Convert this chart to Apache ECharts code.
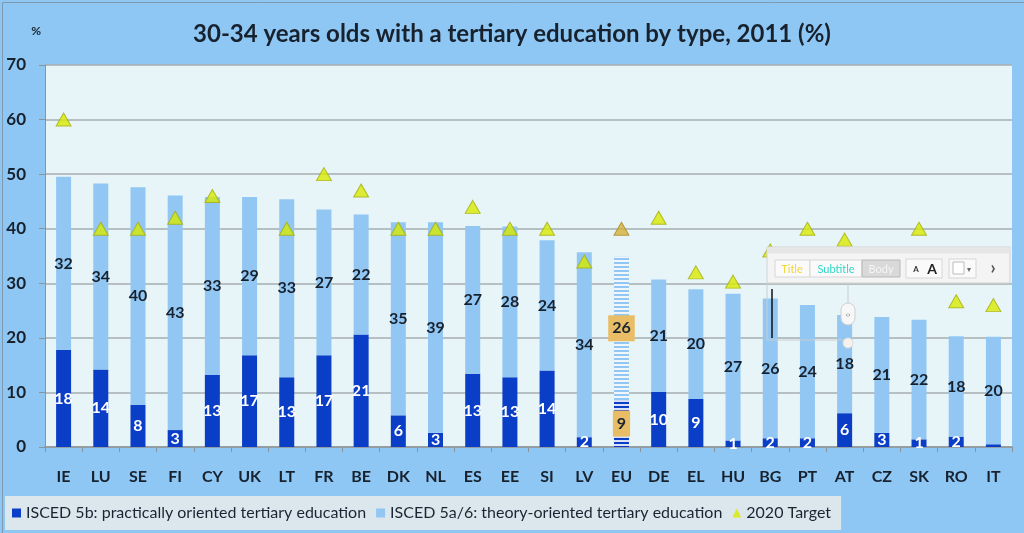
<!DOCTYPE html>
<html>
<head>
<meta charset="utf-8">
<script src="https://cdn.jsdelivr.net/npm/echarts@6/dist/echarts.min.js"></script>
<style>
html,body{margin:0;padding:0;background:#8FC7F4;}
#c{width:1024px;height:533px;}
</style>
</head>
<body>
<div id="c"></div>
<script>
const categories = ['IE','LU','SE','FI','CY','UK','LT','FR','BE','DK','NL','ES','EE','SI','LV','EU','DE','EL','HU','BG','PT','AT','CZ','SK','RO','IT'];
const isced5b = [17.8,14.2,7.7,3.1,13.2,16.8,12.8,16.8,20.6,5.8,2.6,13.4,12.8,14.0,1.8,8.6,10.1,8.8,1.2,1.6,1.6,6.2,2.6,1.4,1.9,0.5];
const isced5a6 = [31.7,34.1,39.9,43.0,32.6,29.0,32.6,26.7,22.0,35.4,38.6,27.1,27.6,23.9,33.9,26.3,20.6,20.1,26.9,25.6,24.4,18.0,21.2,21.9,18.4,19.7];
const target2020 = [60,40,40,42,46,null,40,50,47,40,40,44,40,40,34,40,42,32,30.3,36,40,38,null,40,26.7,26];
const yTicks = [0,10,20,30,40,50,60,70];

const FONT = 'Lato';
const DARK = '#0B3EC6';
const LIGHT = '#92C7F3';
const TRI = '#D8EA00';
const EU_IDX = categories.indexOf('EU');
const euLabel = {backgroundColor:'#E9BD66',color:'#1A2533',padding:[6,4,4,4],fontSize:16};
const euDecal = {symbol:'rect',dashArrayX:[1,0],dashArrayY:[2,2],symbolSize:1,rotation:0,color:'rgba(255,255,255,0.85)'};

const darkData = isced5b.map((v,i)=>{
  const o = {value:v};
  if (i===EU_IDX){ o.itemStyle={decal:euDecal}; o.label=euLabel; }
  if (v<1) o.label={show:false};
  return o;
});
const lightData = isced5a6.map((v,i)=>{
  const o = {value:v};
  if (i===EU_IDX){ o.itemStyle={decal:euDecal}; o.label=euLabel; }
  return o;
});
const targetData = target2020.map((v,i)=>{
  if (v===null) return '-';
  if (i===EU_IDX) return {value:v,itemStyle:{color:'#D6B23A',borderColor:'#A88A20'}};
  return v;
});

const toolbarChildren = [
  {type:'polyline',shape:{points:[[0,36],[0,93],[81,93]]},style:{stroke:'#C8CDD0',lineWidth:1,fill:'none'}},
  {type:'rect',shape:{x:0,y:0,width:243,height:36},style:{fill:'#F4F4F4',stroke:'#D2D2D2',lineWidth:1}},
  {type:'rect',shape:{x:0.5,y:0.5,width:242,height:6},style:{fill:'#E6E6E6'}},
  {type:'rect',shape:{x:8,y:13,width:35,height:17},style:{fill:'#FAFAFA',stroke:'#D6D6D6'}},
  {type:'text',style:{x:25,y:22,text:'Title',fill:'#F2D33A',font:'11px Lato',align:'center',verticalAlign:'middle'}},
  {type:'rect',shape:{x:43,y:13,width:52,height:17},style:{fill:'#FAFAFA',stroke:'#D6D6D6'}},
  {type:'text',style:{x:69,y:22,text:'Subtitle',fill:'#2FD8C8',font:'11px Lato',align:'center',verticalAlign:'middle'}},
  {type:'rect',shape:{x:95,y:13,width:38,height:17},style:{fill:'#D9D9D9',stroke:'#B8B8B8'}},
  {type:'text',style:{x:114,y:22,text:'Body',fill:'#F4F4F4',font:'11px Lato',align:'center',verticalAlign:'middle'}},
  {type:'rect',shape:{x:139,y:12,width:36,height:19},style:{fill:'#FAFAFA',stroke:'#D6D6D6'}},
  {type:'text',style:{x:149,y:22,text:'A',fill:'#333',font:'bold 8px Lato',align:'center',verticalAlign:'middle'}},
  {type:'text',style:{x:165,y:22,text:'A',fill:'#222',font:'bold 14px Lato',align:'center',verticalAlign:'middle'}},
  {type:'rect',shape:{x:182,y:12,width:27,height:19},style:{fill:'#FAFAFA',stroke:'#D6D6D6'}},
  {type:'rect',shape:{x:186,y:15,width:11,height:12},style:{fill:'#FFFFFF',stroke:'#BBBBBB'}},
  {type:'text',style:{x:202,y:22,text:'▾',fill:'#666',font:'8px Lato',align:'center',verticalAlign:'middle'}},
  {type:'text',style:{x:226,y:21,text:'›',fill:'#555',font:'bold 18px Lato',align:'center',verticalAlign:'middle'}},
  {type:'line',shape:{x1:81,y1:36,x2:81,y2:56},style:{stroke:'#C8CDD0',lineWidth:1}},
  {type:'rect',shape:{x:74,y:56,width:14,height:22,r:7},style:{fill:'#F7F7F7',stroke:'#D0D0D0'}},
  {type:'text',style:{x:81,y:67,text:'‹›',fill:'#666',font:'8px Lato',align:'center',verticalAlign:'middle'}},
  {type:'circle',shape:{cx:81,cy:96,r:5},style:{fill:'#F5F2EE',stroke:'#E0DDD8'}},
  {type:'line',shape:{x1:5,y1:42,x2:5,y2:91},style:{stroke:'#111',lineWidth:1.5}}
].map((c,i)=>Object.assign(c,{z:200+i,silent:true}));

const chart = echarts.init(document.getElementById('c'));
chart.setOption({
  animation:false,
  backgroundColor:'#8FC7F4',
  textStyle:{fontFamily:FONT},
  title:{
    text:'30-34 years olds with a tertiary education by type, 2011 (%)',
    left:'center', top:17,
    textStyle:{fontFamily:FONT,fontWeight:'bold',fontSize:24,color:'#17222E'}
  },
  grid:{left:45,right:12,top:65,bottom:86,show:true,backgroundColor:'#E8F5F8',borderWidth:0},
  legend:{
    left:5, top:496, width:833, height:35,
    backgroundColor:'#DCE7ED',
    padding:[9,10,9,7],
    itemGap:10, itemWidth:9, itemHeight:9,
    textStyle:{fontFamily:FONT,fontSize:16,color:'#1A2533'},
    data:[
      {name:'ISCED 5b: practically oriented tertiary education',icon:'rect'},
      {name:'ISCED 5a/6: theory-oriented tertiary education',icon:'rect'},
      {name:'2020 Target',icon:'triangle',itemStyle:{borderWidth:0}}
    ]
  },
  xAxis:{
    type:'category', data:categories,
    axisLine:{lineStyle:{color:'#8C9499',width:1.5}},
    axisTick:{show:true,length:5,lineStyle:{color:'#8C9499'}},
    axisLabel:{fontFamily:FONT,fontWeight:'bold',fontSize:16,color:'#17222E',margin:22}
  },
  yAxis:{
    type:'value', min:0, max:70, interval:10,
    name:'%', nameLocation:'end', nameGap:28,
    nameTextStyle:{fontFamily:FONT,fontSize:12,fontWeight:'bold',color:'#17222E',align:'right',padding:[0,4,0,0]},
    axisLine:{show:true,lineStyle:{color:'#8C9499',width:1}},
    axisTick:{show:true,length:6,lineStyle:{color:'#8C9499'}},
    axisLabel:{fontFamily:FONT,fontWeight:'bold',fontSize:17,color:'#17222E',margin:19,
      formatter:v=>yTicks.includes(v)?String(v):''},
    splitLine:{lineStyle:{color:'#A6AEB0',width:1.5}}
  },
  series:[
    {
      name:'ISCED 5b: practically oriented tertiary education',
      type:'bar', stack:'t', barWidth:15,
      itemStyle:{color:DARK},
      label:{show:true,position:'inside',fontFamily:FONT,fontWeight:'bold',fontSize:16,color:'#FFFFFF',
        formatter:p=>String(Math.round(p.value))},
      data:darkData
    },
    {
      name:'ISCED 5a/6: theory-oriented tertiary education',
      type:'bar', stack:'t', barWidth:15,
      itemStyle:{color:LIGHT},
      label:{show:true,position:'inside',fontFamily:FONT,fontWeight:'bold',fontSize:16,color:'#17222E',
        formatter:p=>String(Math.round(p.value))},
      data:lightData
    },
    {
      name:'2020 Target',
      type:'scatter', symbol:'triangle', symbolSize:[15,13],
      itemStyle:{color:TRI,borderColor:'#A4AE10',borderWidth:1},
      z:5,
      data:targetData
    }
  ],
  graphic:[
    {type:'rect',left:0,top:0,shape:{width:1023,height:532},style:{fill:'none',stroke:'#7F9AB0',lineWidth:1},silent:true,z:100},
    {type:'group',x:767,y:247,z:200,children:toolbarChildren}
  ]
});
</script>
</body>
</html>
